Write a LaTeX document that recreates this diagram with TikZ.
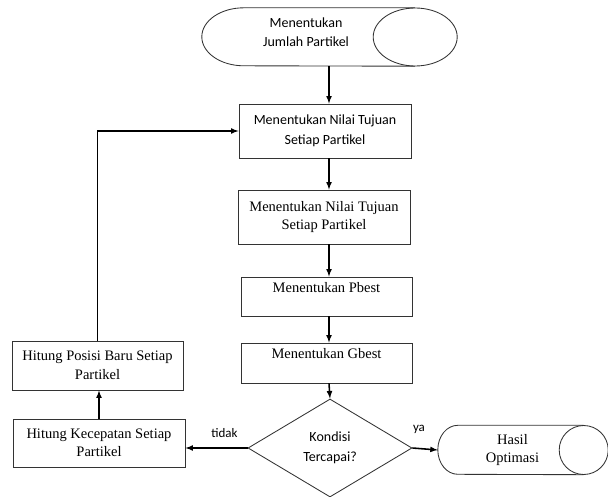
\documentclass[tikz,border=0pt]{standalone}
\usepackage{fontspec}
\usetikzlibrary{shapes.geometric}
\newfontfamily\carlito{Carlito}
\newfontfamily\tnr{Liberation Serif}

\begin{document}
\begin{tikzpicture}[x=1pt,y=-1pt,
  box/.style={draw=black!80, line width=0.03cm, inner sep=0pt, align=center},
  garis/.style={draw=black!80, line width=0.03cm},
  arr/.style={black, line width=0.055cm, -latex},
  sans/.style={font=\carlito\fontsize{14}{19.5}\selectfont},
  serif/.style={font=\tnr\fontsize{14.5}{18.5}\selectfont},
  lower/.style={text height=10pt, text depth=19pt}]
\useasboundingbox (0,0) rectangle (608,497);

% terminal atas
\node[inner sep=0pt, minimum width=255pt, minimum height=58pt,
  label={[xshift=-23.5pt, yshift=5pt, align=center, sans]center:Menentukan\\Jumlah Partikel}]
  (mulai) at (329.5,37) {};
\draw[garis] ([xshift=-42pt]mulai.north east) -- ([xshift=42pt]mulai.north west)
  arc (90:270:42pt and 29pt) -- ([xshift=-42pt]mulai.south east);
\draw[garis] ([xshift=-42pt]mulai.east) ellipse (42pt and 29pt);

\node[box, sans, minimum width=172pt, minimum height=54pt]
  (nilai1) at (325,131) {Menentukan Nilai Tujuan\\Setiap Partikel};
\node[box, serif, minimum width=172pt, minimum height=54pt]
  (nilai2) at (324,217) {Menentukan Nilai Tujuan\\Setiap Partikel};
\node[box, serif, lower, minimum width=171pt, minimum height=39pt]
  (pbest) at (326.5,296.5) {Menentukan Pbest};
\node[box, serif, lower, minimum width=171pt, minimum height=40pt]
  (gbest) at (326.5,363) {Menentukan Gbest};
\node[box, sans, diamond, minimum width=164pt, minimum height=98pt]
  (kondisi) at (330,448) {Kondisi\\Tercapai?};

% terminal akhir
\node[inner sep=0pt, minimum width=170pt, minimum height=49pt,
  label={[xshift=-10.5pt, align=center, serif]center:Hasil\\Optimasi}]
  (hasil) at (523,450) {};
\draw[garis] ([xshift=-24.5pt]hasil.north east) -- ([xshift=20pt]hasil.north west)
  arc (90:270:20pt and 24.5pt) -- ([xshift=-24.5pt]hasil.south east);
\draw[garis] ([xshift=-24.5pt]hasil.east) ellipse (24.5pt and 24.5pt);

\node[box, serif, minimum width=172pt, minimum height=48pt]
  (kecepatan) at (99,443) {Hitung Kecepatan Setiap\\Partikel};
\node[box, serif, minimum width=171pt, minimum height=49pt]
  (posisi) at (97.5,365.5) {Hitung Posisi Baru Setiap\\Partikel};

\coordinate (jalur) at (329,0);
\draw[arr] (mulai.south -| jalur) -- (nilai1.north -| jalur);
\draw[arr] (nilai1.south -| jalur) -- (nilai2.north -| jalur);
\draw[arr] (nilai2.south -| jalur) -- (pbest.north -| jalur);
\draw[arr] (pbest.south -| jalur) -- (gbest.north -| jalur);
\draw[arr] (gbest.south -| jalur) -- (kondisi.north);

\draw[arr] (kondisi.east) -- (hasil.west);
\node[font=\carlito\fontsize{13}{15}\selectfont] (ya) at (419,429) {ya};
\draw[arr] (kondisi.west) -- (kondisi.west -| kecepatan.east);
\node[font=\carlito\fontsize{13}{15}\selectfont] (tidak) at (224.5,433) {tidak};

\draw[arr] (kecepatan.north) -- (kecepatan.north |- posisi.south);
\draw[arr] (posisi.north) |- (nilai1.west);

\end{tikzpicture}
\end{document}
